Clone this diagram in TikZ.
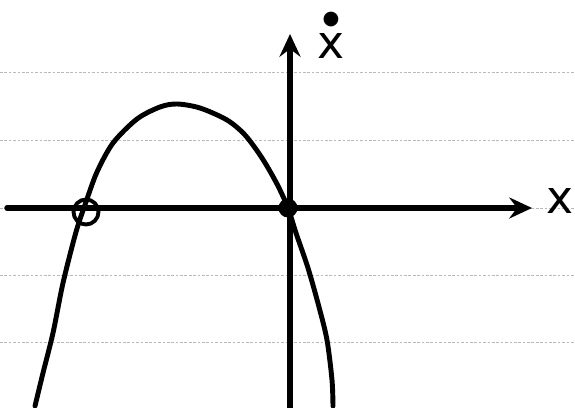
\documentclass[tikz,border=0pt]{standalone}
\usepackage{fontspec}
\setsansfont{DejaVu Sans}
\usetikzlibrary{arrows.meta}
\begin{document}
\begin{tikzpicture}[x=0.02cm,y=-0.02cm,
  ink/.style={line width=2.8pt,line cap=round,line join=round},
  ruled/.style={gray!55,line width=0.5pt,dash pattern=on 1.5pt off 1pt},
  axisarrow/.style={ink,line width=3.1pt,-{Stealth[length=13pt,width=12pt,inset=4.5pt]}},
  lbl/.style={font=\sffamily\fontsize{26}{26}\selectfont,inner sep=0pt}]
\useasboundingbox (0,0) rectangle (575,408);
\fill[white] (0,0) rectangle (575,408);
% notebook ruling
\foreach \yy in {72,140,208,275,342}
  \draw[ruled] (0,\yy) -- (575,\yy);
% axes
\coordinate (xl) at (7,208);
\coordinate (xr) at (532,208);
\coordinate (yb) at (290,410);
\coordinate (yt) at (290,34);
\draw[axisarrow] (xl) -- (xr);
\draw[axisarrow] (yb) -- (yt);
\node[lbl] (xlabel) at (560,201) {x};
\node[lbl,align=center,anchor=south] (ydotlabel) at (331,59)
  {{\fontsize{11}{11}\selectfont ●}\\[-6.5pt]x};
% curve
\draw[ink] plot[smooth,tension=0.5] coordinates {
  (35,406) (43,373) (53,333) (63,283) (76,232) (86,202) (97,172)
  (113,143) (137,119) (160,107) (177,104) (200,108) (227,120)
  (245,135) (262,158) (277,184) (288,208) (296,233) (308,268)
  (319,307) (327,340) (332,380) (333,406)};
% equilibria
\node[draw,line width=2.2pt,circle,inner sep=0pt,minimum size=0.5cm] (unstable) at (86,212) {};
\node[fill,circle,inner sep=0pt,minimum size=0.38cm] (stable) at (288,208) {};
\end{tikzpicture}
\end{document}
